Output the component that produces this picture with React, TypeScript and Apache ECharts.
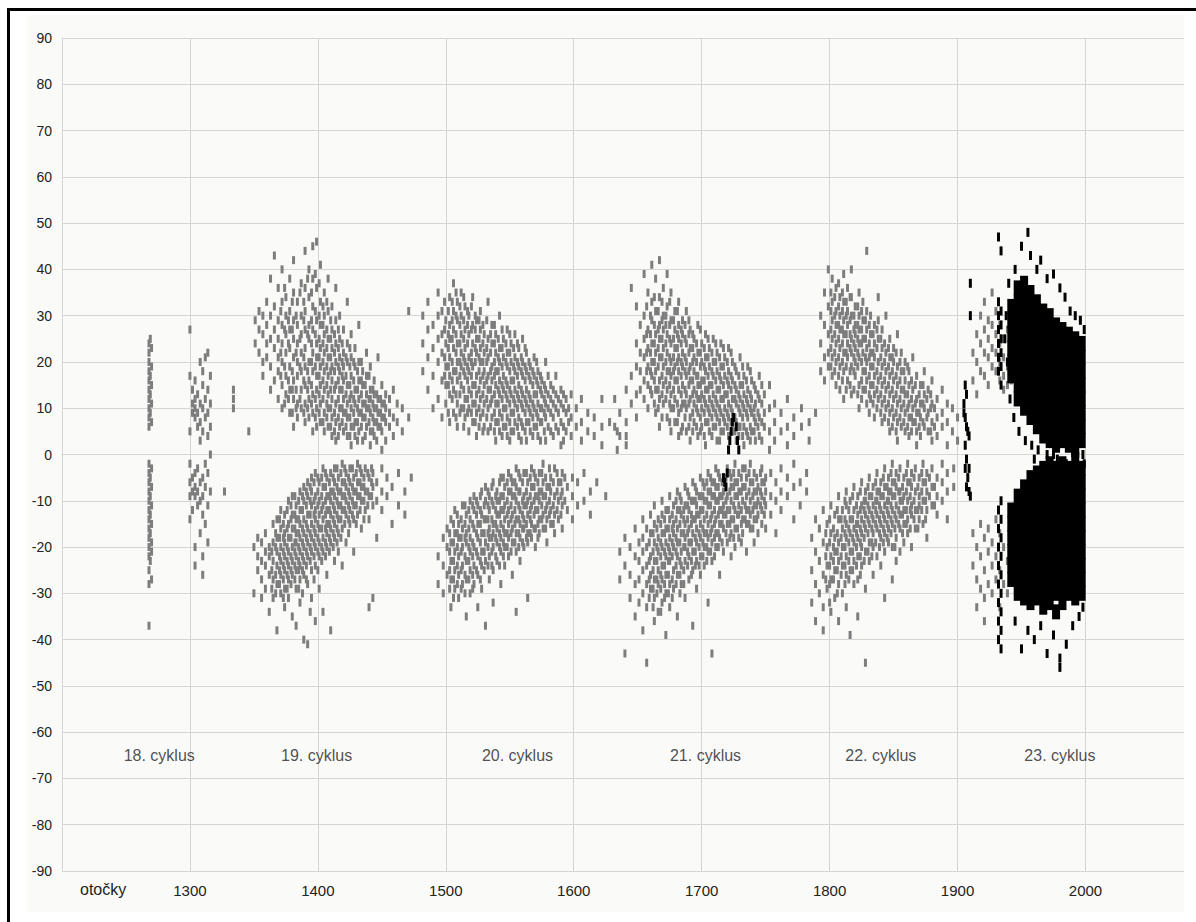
import React, { useEffect, useRef } from "react";
import * as echarts from "echarts";

// Each row: [rotation (otočka), latitude, latitude, ...]
const cycle18: number[][] = [
  [1268, 24, 22, 20, 18, 16, 14, 12, 10, 8, 6, -2, -4, -6, -8, -10, -12, -14, -16, -18, -20, -22, -25, -28, -37],
  [1270, 23, 19, 15, 11, 7, -3, -7, -11, -15, -19, -21, -27],
  [1269, 25, 17, 13, 9, -5, -9, -13, -17, -23],
  [1300, 27, 17, 5, -2, -6, -9, -14],
  [1302, 14, 11, 9, -5, -8, -12],
  [1304, 16, 12, 10, 8, -4, -7, -9, -20, -24],
  [1306, 13, 9, 6, -3, -8, -11],
  [1308, 20, 11, 7, 3, -6, -10, -17],
  [1310, 18, 15, 10, 5, -5, -9, -13, -22, -26],
  [1312, 21, 12, 8, -2, -7, -15],
  [1314, 22, 14, 9, 4, -4, -11, -19],
  [1316, 17, 11, 6, 0, -8],
  [1334, 14, 12, 10],
  [1327, -8],
  [1346, 5],
];

const cycle19North: number[][] = [
  [1351, 29, 24], [1354, 31, 27, 22], [1357, 30, 26, 20, 17], [1360, 33, 28, 24, 21],
  [1363, 38, 30, 25, 19, 14], [1366, 43, 32, 27, 23, 16], [1369, 36, 29, 25, 21, 18, 12],
  [1372, 40, 33, 28, 24, 20, 15, 10], [1375, 34, 30, 26, 22, 17, 13],
  [1378, 38, 31, 27, 23, 19, 14, 9], [1381, 42, 35, 29, 25, 21, 16, 12, 6],
  [1384, 33, 28, 24, 20, 17, 11, 8], [1387, 37, 30, 26, 22, 18, 14, 10],
  [1390, 44, 36, 31, 27, 23, 19, 15, 11, 7], [1393, 40, 34, 28, 25, 20, 16, 12, 8],
  [1396, 45, 38, 32, 27, 22, 18, 13, 9, 5], [1399, 46, 36, 29, 24, 21, 17, 14, 10, 6],
  [1402, 41, 33, 28, 23, 19, 15, 11, 7], [1405, 35, 30, 26, 22, 18, 14, 9, 5],
  [1408, 38, 31, 25, 21, 17, 13, 10, 6], [1411, 32, 27, 23, 19, 16, 12, 8, 4],
  [1414, 36, 29, 24, 20, 15, 11, 7, 3], [1417, 30, 25, 21, 18, 14, 10, 6],
  [1420, 27, 22, 19, 16, 12, 9, 5], [1423, 33, 24, 20, 15, 11, 8, 4],
  [1426, 26, 21, 17, 13, 10, 6, 2], [1429, 23, 19, 14, 11, 7, 4],
  [1432, 28, 20, 16, 12, 9, 5], [1435, 18, 15, 11, 8, 3], [1438, 22, 17, 13, 10, 6],
  [1441, 19, 14, 12, 9, 5, 2], [1444, 16, 13, 10, 7, 4], [1447, 21, 12, 9, 6],
  [1450, 15, 11, 8, 5, 1], [1453, 13, 10, 7, 3], [1456, 12, 9, 6], [1459, 14, 8, 4],
  [1462, 11, 7], [1466, 10, 5], [1471, 31, 8],
];
const cycle19NorthFill: number[][] = [
  [1371, 31, 22, 17], [1374, 36, 27, 19, 11], [1377, 29, 24, 16, 12], [1380, 33, 27, 18, 14, 9],
  [1383, 30, 22, 14, 10], [1386, 35, 25, 19, 12], [1389, 33, 29, 21, 16, 9], [1392, 38, 26, 18, 14, 10],
  [1395, 35, 29, 24, 20, 15, 11], [1398, 39, 31, 26, 19, 12, 8], [1401, 37, 30, 25, 21, 17, 13, 9],
  [1404, 32, 28, 24, 20, 16, 12, 7], [1407, 33, 27, 23, 19, 15, 11, 8], [1410, 29, 25, 21, 18, 14, 10, 6],
  [1413, 26, 22, 18, 14, 9, 5], [1416, 27, 23, 19, 16, 12, 8, 4], [1419, 24, 20, 17, 14, 10, 7],
  [1422, 21, 17, 13, 9, 6], [1425, 23, 19, 15, 12, 8, 4], [1428, 20, 16, 12, 9, 6],
  [1431, 18, 14, 10, 7, 3], [1434, 20, 16, 13, 9, 6], [1437, 15, 11, 8, 4], [1440, 17, 12, 10, 7],
  [1443, 14, 11, 8, 5], [1446, 13, 10, 7, 3], [1449, 12, 9, 6], [1452, 11, 8],
];

const cycle19South: number[][] = [
  [1350, -20, -30], [1353, -18, -22, -25], [1356, -19, -23, -27, -31], [1359, -17, -21, -24, -29],
  [1362, -20, -22, -26, -34], [1365, -15, -19, -23, -27, -31], [1368, -14, -18, -21, -24, -28, -38],
  [1371, -12, -16, -20, -23, -26, -30], [1374, -13, -17, -19, -22, -25, -29, -33],
  [1377, -10, -15, -18, -21, -24, -27, -31], [1380, -9, -13, -16, -20, -23, -26, -35],
  [1383, -11, -14, -17, -19, -22, -25, -29, -37], [1386, -8, -12, -15, -18, -21, -24, -27, -32],
  [1389, -7, -10, -14, -17, -20, -23, -26, -40], [1392, -6, -9, -13, -16, -19, -22, -28, -41],
  [1395, -5, -8, -11, -15, -18, -21, -25, -31], [1398, -4, -9, -12, -14, -17, -20, -24, -36],
  [1401, -6, -10, -13, -16, -19, -22, -29], [1404, -3, -7, -11, -14, -18, -21, -34],
  [1407, -5, -9, -12, -15, -17, -20, -26], [1410, -4, -8, -10, -13, -16, -19, -38],
  [1413, -3, -6, -9, -12, -15, -18, -23], [1416, -5, -8, -11, -14, -17, -21],
  [1419, -2, -6, -9, -12, -16, -24], [1422, -4, -7, -10, -13, -19], [1425, -3, -6, -9, -12, -15],
  [1428, -5, -8, -11, -14, -21], [1431, -2, -6, -9, -13], [1434, -4, -7, -10, -16],
  [1437, -3, -8, -12], [1440, -5, -9, -14, -33], [1443, -4, -7, -11, -31], [1446, -6, -10, -18],
  [1450, -3, -8, -12], [1454, -5, -9], [1458, -7, -15], [1463, -4, -11], [1468, -8, -13], [1473, -5],
];
const cycle19SouthFill: number[][] = [
  [1364, -21, -25, -29], [1367, -17, -20, -26, -30], [1370, -14, -18, -22, -25, -28],
  [1373, -15, -18, -21, -24, -27, -31], [1376, -12, -16, -20, -23, -26, -29],
  [1379, -11, -14, -18, -22, -25, -28], [1382, -9, -13, -16, -19, -21, -24, -27],
  [1385, -10, -14, -17, -20, -23, -25, -29], [1388, -9, -12, -16, -19, -22, -25, -30],
  [1391, -8, -11, -15, -18, -21, -24, -27], [1394, -7, -10, -13, -17, -20, -23, -34],
  [1397, -6, -10, -13, -16, -19, -22, -27], [1400, -5, -8, -11, -15, -18, -21, -25],
  [1403, -5, -9, -12, -16, -20, -23], [1406, -4, -7, -10, -13, -16, -19, -22],
  [1409, -6, -9, -12, -15, -18, -21], [1412, -5, -8, -11, -14, -17, -20],
  [1415, -3, -7, -10, -13, -16, -19], [1418, -4, -8, -11, -14, -18], [1421, -3, -6, -9, -12, -15],
  [1424, -5, -8, -11, -14, -17], [1427, -3, -7, -10, -13], [1430, -4, -8, -11, -15],
  [1433, -3, -6, -9, -12], [1436, -5, -7, -10, -14], [1439, -4, -8, -11], [1442, -3, -6, -9],
];

const cycle20North: number[][] = [
  [1482, 30, 24, 18], [1486, 33, 27, 21, 14], [1490, 28, 23, 17, 10], [1494, 35, 30, 25, 20, 12],
  [1497, 31, 26, 22, 16, 8], [1500, 29, 24, 19, 15, 11], [1503, 34, 28, 25, 21, 17, 13, 7],
  [1506, 37, 31, 27, 23, 18, 14, 9], [1509, 33, 29, 24, 20, 16, 11, 6],
  [1512, 35, 30, 26, 22, 19, 15, 10], [1515, 32, 27, 23, 20, 17, 12, 8],
  [1518, 30, 26, 21, 18, 14, 10, 5], [1521, 34, 28, 24, 19, 15, 11, 7],
  [1524, 29, 25, 22, 17, 13, 9, 4], [1527, 31, 27, 23, 20, 16, 12, 8],
  [1530, 26, 22, 18, 15, 11, 6], [1533, 33, 25, 21, 17, 14, 10, 5], [1536, 28, 24, 19, 16, 12, 8],
  [1539, 26, 22, 18, 15, 11, 7, 3], [1542, 30, 23, 20, 16, 13, 9, 5], [1545, 25, 21, 17, 14, 10, 6],
  [1548, 27, 22, 19, 15, 12, 8, 4], [1551, 24, 20, 16, 13, 9, 5], [1554, 26, 21, 18, 14, 11, 7],
  [1557, 23, 19, 15, 12, 8, 4], [1560, 25, 20, 17, 13, 10, 6], [1563, 22, 18, 14, 11, 7, 3],
  [1566, 19, 16, 12, 9, 5], [1569, 21, 17, 13, 10, 6], [1572, 18, 15, 11, 8, 4],
  [1575, 16, 13, 10, 7], [1578, 20, 14, 11, 8, 3], [1582, 15, 12, 9, 5], [1586, 17, 13, 10, 6],
  [1590, 14, 11, 7, 2], [1594, 12, 9, 5], [1598, 13, 8, 4], [1602, 10, 6], [1606, 12, 7, 3],
  [1611, 9, 5], [1616, 8, 4], [1622, 6, 2, 12], [1628, 7], [1634, 5, 1], [1641, 4],
];
const cycle20NorthFill: number[][] = [
  [1499, 33, 27, 21, 17], [1502, 31, 26, 23, 19, 15, 9], [1505, 33, 29, 25, 20, 16, 12],
  [1508, 35, 30, 26, 22, 18, 13, 8], [1511, 32, 28, 24, 20, 17, 13, 9],
  [1514, 34, 29, 25, 21, 18, 14, 10, 6], [1517, 31, 28, 24, 19, 16, 12, 9],
  [1520, 32, 27, 22, 20, 17, 13, 9], [1523, 30, 27, 23, 20, 15, 11, 7],
  [1526, 29, 25, 21, 18, 14, 10, 6], [1529, 28, 24, 20, 17, 13, 9, 5], [1532, 29, 23, 20, 16, 12, 8],
  [1535, 26, 22, 18, 14, 11, 6], [1538, 28, 24, 20, 17, 13, 9, 5], [1541, 25, 21, 18, 14, 11, 7],
  [1544, 27, 23, 19, 15, 12, 8, 4], [1547, 24, 20, 16, 13, 10, 6], [1550, 26, 22, 18, 14, 11, 7, 3],
  [1553, 23, 19, 16, 12, 9, 5], [1556, 24, 20, 17, 13, 10, 6], [1559, 21, 18, 14, 11, 7, 3],
  [1562, 23, 19, 16, 12, 9, 5], [1565, 20, 17, 13, 10, 7], [1568, 18, 15, 11, 8, 4],
  [1571, 20, 16, 13, 9, 6], [1574, 17, 14, 10, 7, 3], [1577, 15, 12, 9, 5], [1580, 17, 13, 10, 6],
  [1584, 14, 11, 8, 4], [1588, 12, 9, 5], [1592, 13, 10, 6, 3], [1596, 10, 7],
];

const cycle20South: number[][] = [
  [1494, -22, -28], [1498, -18, -24, -30], [1501, -16, -20, -26], [1504, -14, -19, -23, -27, -33],
  [1507, -12, -17, -21, -25, -29], [1510, -15, -18, -22, -26, -31], [1513, -11, -16, -20, -24, -28],
  [1516, -13, -17, -19, -23, -27, -35], [1519, -10, -14, -18, -21, -25, -30],
  [1522, -9, -12, -16, -20, -24, -28], [1525, -11, -15, -18, -22, -26, -33],
  [1528, -8, -13, -17, -21, -24, -29], [1531, -7, -10, -14, -19, -23, -37],
  [1534, -9, -12, -16, -18, -22, -27], [1537, -6, -11, -15, -17, -20, -25, -32],
  [1540, -8, -10, -13, -16, -19, -23], [1543, -5, -9, -12, -15, -18, -21, -28],
  [1546, -7, -11, -14, -17, -20, -24], [1549, -4, -8, -12, -15, -18, -22],
  [1552, -6, -9, -13, -16, -19, -26], [1555, -3, -7, -10, -14, -17, -21, -34],
  [1558, -5, -8, -12, -15, -18, -23], [1561, -4, -9, -11, -14, -16, -20],
  [1564, -6, -10, -13, -17, -19, -31], [1567, -3, -7, -11, -15, -18], [1570, -5, -9, -12, -16, -20],
  [1573, -4, -8, -10, -14, -17], [1576, -2, -6, -9, -13, -16], [1579, -7, -11, -14, -19],
  [1582, -5, -8, -12, -15], [1585, -3, -9, -13, -17], [1588, -6, -10, -14], [1591, -4, -8, -11, -16],
  [1595, -7, -12], [1599, -5, -9, -14], [1603, -6, -11], [1608, -4, -10], [1613, -8, -13],
  [1618, -6], [1625, -9],
];
const cycle20SouthFill: number[][] = [
  [1503, -17, -21, -25, -29], [1506, -15, -19, -23, -27, -31], [1509, -13, -17, -20, -24, -28],
  [1512, -14, -18, -21, -25, -29], [1515, -11, -15, -18, -22, -26, -30], [1518, -12, -16, -20, -23, -27],
  [1521, -11, -15, -19, -22, -26, -29], [1524, -10, -13, -17, -21, -25], [1527, -9, -12, -15, -19, -23, -27],
  [1530, -11, -14, -17, -21, -25], [1533, -8, -11, -14, -17, -20, -24], [1536, -7, -10, -14, -18, -21, -24],
  [1539, -9, -12, -15, -18, -22], [1542, -6, -10, -13, -17, -20, -24], [1545, -5, -9, -12, -16, -19, -22],
  [1548, -6, -10, -13, -17, -20], [1551, -5, -8, -11, -14, -17, -21], [1554, -6, -9, -12, -15, -19],
  [1557, -4, -8, -11, -14, -17, -20], [1560, -6, -10, -13, -16, -19], [1563, -4, -8, -11, -15, -18],
  [1566, -5, -9, -12, -14, -17], [1569, -4, -7, -10, -13, -16], [1572, -6, -9, -12, -15, -18],
  [1575, -4, -8, -11, -14], [1578, -5, -9, -12, -16], [1581, -3, -7, -10, -13], [1584, -6, -11, -15],
  [1587, -4, -8, -12], [1590, -6, -9, -13], [1593, -5, -10],
];

const cycle21North: number[][] = [
  [1632, 12, 6], [1636, 9, 4], [1641, 14, 7, 2], [1645, 36, 17, 11], [1649, 32, 24, 19, 13, 8],
  [1652, 28, 22, 18, 14], [1655, 39, 30, 25, 21, 16, 12], [1658, 35, 27, 23, 19, 15, 10],
  [1661, 41, 33, 29, 24, 20, 17, 13], [1664, 38, 31, 26, 22, 18, 14, 9],
  [1667, 42, 34, 28, 25, 21, 16, 12, 6], [1670, 36, 30, 27, 23, 19, 15, 11],
  [1673, 39, 32, 26, 22, 18, 14, 8], [1676, 35, 29, 24, 20, 17, 13, 10, 5],
  [1679, 31, 27, 23, 19, 16, 12, 7], [1682, 33, 28, 25, 21, 18, 14, 9, 4],
  [1685, 29, 26, 22, 19, 15, 11, 6], [1688, 31, 24, 20, 17, 13, 10, 5],
  [1691, 27, 23, 19, 16, 12, 8, 3], [1694, 25, 21, 18, 14, 11, 7], [1697, 28, 22, 17, 15, 12, 9, 4],
  [1700, 24, 20, 16, 13, 10, 6], [1703, 26, 21, 18, 14, 11, 7, 2], [1706, 23, 19, 15, 12, 9, 5],
  [1709, 25, 20, 17, 13, 10, 6], [1712, 22, 18, 14, 11, 8, 3], [1715, 24, 19, 16, 12, 9, 5],
  [1718, 21, 17, 13, 10, 7], [1721, 23, 18, 15, 11, 8, 4], [1724, 20, 16, 12, 9, 5],
  [1727, 18, 14, 11, 7, 3], [1730, 21, 15, 12, 9, 6], [1733, 17, 13, 10, 6, 2],
  [1736, 19, 14, 11, 8, 4], [1739, 16, 12, 9, 5], [1742, 14, 11, 7, 3], [1745, 17, 12, 8, 4],
  [1749, 13, 9, 6], [1753, 15, 10, 5, 1], [1757, 11, 7, 3], [1762, 9, 5], [1767, 12, 6, 2],
  [1772, 8, 4], [1778, 10, 6], [1784, 7, 3], [1789, 9],
];
const cycle21NorthFill: number[][] = [
  [1657, 32, 26, 22, 18], [1660, 30, 26, 22, 18, 14], [1663, 34, 28, 24, 20, 16, 11],
  [1666, 31, 27, 23, 19, 14, 10], [1669, 33, 29, 25, 21, 17, 13, 8], [1672, 30, 28, 24, 20, 16, 12],
  [1675, 33, 28, 25, 21, 18, 15, 11, 7], [1678, 29, 25, 21, 18, 14, 10], [1681, 31, 26, 23, 20, 16, 11, 7],
  [1684, 27, 24, 20, 17, 13, 10, 5], [1687, 28, 25, 21, 18, 14, 11, 8], [1690, 29, 26, 22, 18, 15, 11, 6],
  [1693, 26, 23, 20, 16, 13, 9, 5], [1696, 24, 20, 17, 13, 10, 6], [1699, 27, 22, 19, 15, 12, 8, 5],
  [1702, 23, 19, 16, 12, 9, 4], [1705, 25, 21, 17, 14, 10, 7], [1708, 22, 18, 15, 11, 8, 4],
  [1711, 24, 20, 16, 12, 9, 6], [1714, 21, 17, 14, 10, 7, 3], [1717, 23, 19, 15, 12, 8, 5],
  [1720, 20, 16, 13, 9, 6], [1723, 22, 17, 14, 10, 7], [1726, 19, 15, 12, 8, 5],
  [1729, 17, 13, 10, 6, 4], [1732, 19, 15, 11, 8, 4], [1735, 16, 12, 9, 5], [1738, 18, 13, 10, 6, 3],
  [1741, 15, 10, 8, 5], [1744, 13, 9, 6], [1747, 15, 11, 7, 3],
];

const cycle21South: number[][] = [
  [1636, -21, -27], [1640, -18, -24, -43], [1644, -20, -26, -31], [1648, -16, -22, -28, -35],
  [1651, -19, -23, -27, -32], [1654, -14, -18, -21, -25, -30, -38],
  [1657, -16, -20, -24, -28, -33, -45], [1660, -13, -17, -22, -26, -29],
  [1663, -11, -15, -19, -23, -27, -31, -36], [1666, -14, -18, -21, -25, -28, -34],
  [1669, -10, -13, -17, -20, -24, -27, -32], [1672, -12, -16, -19, -22, -26, -30, -39],
  [1675, -9, -14, -18, -21, -23, -28, -33], [1678, -11, -15, -17, -20, -25, -29],
  [1681, -8, -12, -16, -19, -22, -26, -35], [1684, -10, -13, -17, -21, -24, -28],
  [1687, -7, -11, -15, -18, -20, -23, -31], [1690, -9, -12, -16, -19, -22, -27],
  [1693, -6, -10, -14, -17, -21, -25, -37], [1696, -8, -11, -13, -16, -19, -23, -29],
  [1699, -5, -9, -12, -15, -18, -22, -26], [1702, -7, -10, -14, -17, -20, -24],
  [1705, -4, -8, -11, -15, -18, -21, -32], [1708, -6, -9, -13, -16, -19, -23, -43],
  [1711, -3, -7, -10, -14, -17, -20], [1714, -5, -9, -12, -15, -18, -26],
  [1717, -8, -11, -13, -16, -21], [1720, -3, -9, -12, -15, -19], [1723, -5, -7, -10, -14, -17, -22],
  [1726, -2, -6, -9, -12, -16, -20], [1729, -4, -8, -11, -13, -18], [1732, -3, -7, -10, -14, -17],
  [1735, -5, -9, -12, -15, -21], [1738, -2, -6, -10, -13, -16], [1741, -4, -8, -11, -14, -19],
  [1744, -7, -10, -13, -17], [1747, -3, -6, -9, -12, -15], [1750, -5, -8, -11, -16],
  [1754, -4, -9, -13], [1758, -6, -10, -17], [1762, -3, -8, -12], [1767, -5, -9],
  [1772, -2, -7, -14], [1777, -6, -11], [1782, -4, -8],
];
const cycle21SouthFill: number[][] = [
  [1659, -19, -23, -27, -31], [1662, -17, -21, -25, -29, -33], [1665, -16, -20, -23, -27, -30],
  [1668, -15, -19, -22, -26, -29, -34], [1671, -14, -17, -21, -24, -28, -31],
  [1674, -12, -16, -20, -23, -26, -30], [1677, -13, -16, -19, -22, -27, -31],
  [1680, -10, -14, -18, -21, -24, -28], [1683, -9, -12, -15, -19, -23, -26, -30],
  [1686, -12, -14, -17, -20, -25, -28], [1689, -8, -11, -14, -17, -21, -24],
  [1692, -10, -13, -15, -19, -23, -26], [1695, -7, -10, -14, -18, -21, -24], [1698, -9, -13, -17, -20, -24],
  [1701, -6, -9, -12, -16, -19, -22], [1704, -6, -10, -13, -17, -20, -23], [1707, -5, -8, -11, -14, -17, -21],
  [1710, -6, -9, -12, -15, -18, -22], [1713, -4, -7, -10, -13, -17, -20], [1716, -6, -9, -12, -15, -19],
  [1719, -5, -10, -13, -17], [1722, -4, -8, -12, -15, -18], [1725, -4, -7, -11, -14, -18],
  [1728, -6, -9, -13, -16], [1731, -5, -8, -12, -15, -19], [1734, -3, -7, -11, -14],
  [1737, -4, -8, -12, -15], [1740, -6, -9, -12, -16], [1743, -5, -8, -11, -14], [1746, -4, -8, -11],
  [1749, -6, -10, -13],
];

const cycle22North: number[][] = [
  [1793, 30, 24, 18], [1796, 35, 28, 21, 16], [1799, 40, 32, 26, 22, 19], [1802, 38, 33, 29, 25, 21, 17],
  [1805, 36, 31, 28, 24, 20, 15], [1808, 34, 30, 27, 23, 19, 14], [1811, 39, 33, 29, 26, 22, 18, 12],
  [1814, 36, 31, 28, 24, 21, 16], [1817, 40, 34, 30, 25, 22, 19, 13], [1820, 32, 28, 26, 23, 20, 17],
  [1823, 35, 30, 27, 24, 21, 15, 10], [1826, 33, 29, 25, 22, 18, 14], [1829, 44, 31, 27, 23, 20, 16, 11],
  [1832, 30, 26, 22, 19, 15, 12], [1835, 28, 24, 21, 17, 13, 8], [1838, 34, 29, 25, 20, 16, 12],
  [1841, 27, 23, 19, 15, 11, 7], [1844, 30, 22, 18, 14, 10], [1847, 25, 21, 17, 13, 9, 5],
  [1850, 23, 20, 16, 12, 8], [1853, 26, 19, 15, 11, 7, 3], [1856, 22, 18, 14, 10, 6],
  [1859, 20, 16, 13, 9, 5], [1862, 18, 15, 11, 8, 4], [1865, 21, 14, 10, 7], [1868, 17, 12, 9, 5, 2],
  [1871, 15, 11, 8, 4], [1874, 18, 13, 10, 6], [1877, 14, 9, 5], [1880, 16, 11, 7, 3],
  [1884, 12, 8, 4], [1888, 14, 9, 6], [1892, 11, 7, 2], [1896, 10, 5], [1900, 8, 3],
];
const cycle22NorthFill: number[][] = [
  [1801, 35, 31, 27, 23, 19], [1804, 34, 30, 26, 22, 18], [1807, 37, 32, 28, 25, 21, 17],
  [1810, 35, 31, 27, 24, 20, 16], [1813, 33, 30, 26, 22, 19, 14], [1816, 34, 29, 26, 23, 18, 15],
  [1819, 30, 27, 24, 21, 18, 14], [1822, 32, 28, 25, 22, 19, 13], [1825, 31, 27, 24, 20, 16, 12],
  [1828, 29, 25, 21, 18, 14], [1831, 28, 24, 21, 17, 13, 9], [1834, 26, 22, 19, 15, 11],
  [1837, 27, 23, 18, 14, 10], [1840, 25, 21, 17, 13, 9], [1843, 24, 20, 16, 12, 8],
  [1846, 23, 19, 15, 11, 7], [1849, 21, 18, 14, 10, 6], [1852, 22, 17, 13, 9, 5], [1855, 20, 16, 12, 8],
  [1858, 18, 14, 11, 7], [1861, 19, 13, 10, 6], [1864, 16, 12, 8, 5], [1867, 15, 11, 7],
  [1870, 13, 9, 6], [1873, 15, 11, 7], [1876, 12, 8], [1879, 13, 10, 5], [1882, 10, 6],
];

const cycle22South: number[][] = [
  [1786, -18, -25, -32], [1789, -14, -21, -28, -36], [1792, -16, -23, -30],
  [1795, -12, -19, -26, -33, -38], [1798, -15, -20, -24, -29], [1801, -11, -17, -22, -27, -34],
  [1804, -13, -18, -21, -25, -31], [1807, -9, -14, -19, -23, -28, -36], [1810, -12, -16, -20, -24, -30],
  [1813, -8, -11, -15, -18, -22, -26, -33], [1816, -10, -14, -17, -21, -25, -39],
  [1819, -7, -12, -16, -19, -23, -28], [1822, -9, -13, -15, -18, -22, -27, -35],
  [1825, -6, -11, -14, -17, -20, -24], [1828, -8, -10, -13, -16, -21, -29, -45],
  [1831, -5, -9, -12, -15, -19, -23], [1834, -7, -11, -14, -17, -20, -26],
  [1837, -4, -8, -10, -13, -16, -22], [1840, -6, -9, -12, -15, -18, -24],
  [1843, -3, -7, -11, -14, -17, -21, -31], [1846, -5, -8, -10, -13, -16, -19],
  [1849, -2, -6, -9, -12, -15, -20, -27], [1852, -4, -7, -11, -14, -18, -23],
  [1855, -3, -8, -10, -13, -16, -21], [1858, -5, -9, -12, -15, -19], [1861, -2, -6, -10, -14, -17],
  [1864, -4, -7, -11, -13, -20], [1867, -3, -8, -12, -16], [1870, -5, -9, -11, -14],
  [1873, -2, -6, -10, -15], [1876, -4, -8, -12, -18], [1880, -3, -7, -11], [1884, -5, -9, -13],
  [1888, -2, -6, -10], [1892, -4, -8, -14], [1897, -3, -7],
];
const cycle22SouthFill: number[][] = [
  [1797, -17, -22, -27], [1800, -14, -19, -24, -28, -32], [1803, -16, -20, -23, -27],
  [1806, -12, -17, -21, -25, -30], [1809, -14, -18, -22, -26], [1812, -10, -14, -17, -20, -24, -28],
  [1815, -12, -16, -19, -23, -27], [1818, -9, -14, -18, -21, -25], [1821, -11, -15, -17, -20, -24],
  [1824, -8, -12, -16, -19, -22, -26], [1827, -10, -12, -15, -18, -23], [1830, -7, -11, -14, -17, -21],
  [1833, -9, -13, -16, -19, -22], [1836, -6, -10, -12, -15, -19], [1839, -8, -11, -14, -17, -20],
  [1842, -5, -9, -13, -16, -19], [1845, -7, -10, -12, -15, -18], [1848, -4, -8, -11, -14, -17],
  [1851, -6, -9, -13, -16, -20], [1854, -5, -8, -12, -15], [1857, -7, -10, -13, -17],
  [1860, -4, -8, -12, -15], [1863, -6, -9, -12, -16], [1866, -5, -10, -14], [1869, -7, -12, -16],
  [1872, -4, -8, -12], [1875, -6, -10, -14], [1878, -5, -9], [1882, -7, -11],
];

const cycle23Gray: number[][] = [
  [1912, 22, 16, -17, -24], [1915, 26, 20, 13, -20, -27, -33], [1918, 30, 24, 18, -15, -22, -29],
  [1921, 33, 27, 22, 17, -18, -25, -31, -36], [1924, 29, 25, 21, 15, -16, -21, -28],
  [1927, 35, 28, 23, 19, -19, -24, -30], [1930, 31, 26, 22, 18, -14, -22, -27],
  [1933, 28, 24, 20, 16, -17, -25, -33], [1936, 25, 21, 17, 14, -20, -28],
  [1939, 27, 19, 15, -23, -30], [1942, 22, 16],
];

// black (newest) observations drawn as small ticks
const blackTicks: number[][] = [
  [1721, 1], [1722, 3], [1723, 5], [1724, 7], [1725, 8], [1727, 6], [1728, 3], [1729, 1],
  [1717, -5], [1718, -6], [1719, -7], [1720, -4],
  [1905, 11, 9], [1906, 15, 8, 2, -3], [1907, 13, 6, -1, -7], [1908, 5, -5], [1909, 4, -8, -3],
  [1910, 37, 30, -9],
  [1932, 47, 33, 30, 27, 24, 21, 18, -12, -16, -20, -24, -28, -32, -36, -40],
  [1934, 44, 31, 28, 25, 22, 19, 15, -10, -14, -18, -22, -26, -30, -34, -38, -42],
  [1937, 25], [1938, 30], [1939, 20], [1940, 37], [1941, 12], [1944, 8], [1945, 40, -36],
  [1948, 5], [1950, 45, -42], [1953, 3], [1955, 48, -38], [1957, 43], [1958, 2],
  [1960, -1, -40], [1962, 40], [1963, 1], [1965, 42, -37], [1970, 38, 0, -43],
  [1975, 39, 0, -39], [1978, -1], [1980, 36, -46, -44], [1984, 34], [1985, -2, -41],
  [1988, 31], [1990, -3, 1, -37], [1992, 30], [1995, -4, -35], [1996, 29], [1998, 0, -33], [1999, 27, -2],
];

// black (newest) observations, densely packed core
const blackCore: number[][] = [
  [1942, 32, 29, 26, 23, 20, 17, -12, -15, -18, -21, -24, -27],
  [1947, 36, 33, 30, 27, 24, 21, 18, 15, 12, -9, -12, -15, -18, -21, -24, -27, -30],
  [1952, 37, 34, 31, 28, 25, 22, 19, 16, 13, 10, -7, -10, -13, -16, -19, -22, -25, -28, -31],
  [1957, 35, 32, 29, 26, 23, 20, 17, 14, 11, 8, -5, -8, -11, -14, -17, -20, -23, -26, -29, -32],
  [1962, 33, 30, 27, 24, 21, 18, 15, 12, 9, 6, -4, -7, -10, -13, -16, -19, -22, -25, -28, -31],
  [1967, 31, 28, 25, 22, 19, 16, 13, 10, 7, 4, -3, -6, -9, -12, -15, -18, -21, -24, -27, -30, -33],
  [1972, 30, 27, 24, 21, 18, 15, 12, 9, 6, 3, -2, -5, -8, -11, -14, -17, -20, -23, -26, -29, -32],
  [1977, 28, 25, 22, 19, 16, 13, 10, 7, 4, 2, -3, -6, -9, -12, -15, -18, -21, -24, -27, -30, -34],
  [1982, 27, 24, 21, 18, 15, 12, 9, 6, 3, -2, -5, -8, -11, -14, -17, -20, -23, -26, -29, -32],
  [1987, 26, 23, 20, 17, 14, 11, 8, 5, 2, -3, -6, -9, -12, -15, -18, -21, -24, -27, -30],
  [1992, 25, 22, 19, 16, 13, 10, 7, 4, 1, -1, -4, -7, -10, -13, -16, -19, -22, -25, -28, -31],
  [1997, 24, 21, 18, 15, 12, 9, 6, 3, -3, -6, -9, -12, -15, -18, -21, -24, -27, -30],
];

const cycleNames = ["18. cyklus", "19. cyklus", "20. cyklus", "21. cyklus", "22. cyklus", "23. cyklus"];
const cycleLabelX = [1276, 1399, 1556, 1703, 1840, 1980];
const cycleLabelY = -65;

const flat = (rows: number[][]) => rows.flatMap(([x, ...ys]) => ys.map((y) => [x, y]));

const grayRows = [
  ...cycle18, ...cycle19North, ...cycle19NorthFill, ...cycle19South, ...cycle19SouthFill,
  ...cycle20North, ...cycle20NorthFill, ...cycle20South, ...cycle20SouthFill,
  ...cycle21North, ...cycle21NorthFill, ...cycle21South, ...cycle21SouthFill,
  ...cycle22North, ...cycle22NorthFill, ...cycle22South, ...cycle22SouthFill, ...cycle23Gray,
];

const FONT = "'Liberation Sans', Arial, sans-serif";
const TEXT = "#222222";
const GRID = "#d5d5d5";

export default function App() {
  const ref = useRef<HTMLDivElement>(null);
  useEffect(() => {
    if (!ref.current) return;
    const chart = echarts.init(ref.current, null, { renderer: "svg" });
    chart.setOption({
      animation: false,
      backgroundColor: "#fafbf9",
      grid: { left: 35, top: 23, right: 0, bottom: 41, containLabel: false },
      xAxis: {
        type: "value",
        min: 1200,
        max: 2077,
        interval: 100,
        axisLine: { show: true, lineStyle: { color: GRID } },
        axisTick: { show: false },
        splitLine: { show: true, lineStyle: { color: GRID, width: 1 } },
        axisLabel: {
          formatter: (v: number) => (v === 1200 || v > 2000 ? "" : String(v)),
          showMaxLabel: false,
          fontSize: 15,
          color: TEXT,
          fontFamily: FONT,
          margin: 12,
        },
      },
      yAxis: {
        type: "value",
        min: -90,
        max: 90,
        interval: 10,
        axisLine: { show: true, lineStyle: { color: GRID } },
        axisTick: { show: false },
        splitLine: { show: true, lineStyle: { color: GRID, width: 1 } },
        axisLabel: { fontSize: 14, color: TEXT, fontFamily: FONT, margin: 10 },
      },
      graphic: [
        {
          type: "text",
          left: 53,
          top: 866,
          style: { text: "otočky", fontSize: 16, fill: TEXT, fontFamily: FONT },
        },
      ],
      series: [
        {
          type: "scatter",
          large: false,
          symbol: "rect",
          symbolSize: [3, 8],
          itemStyle: { color: "#7d7d7d", opacity: 1 },
          data: flat(grayRows),
          silent: true,
        },
        {
          type: "scatter",
          large: false,
          symbol: "rect",
          symbolSize: [8, 15],
          itemStyle: { color: "#000000", opacity: 1 },
          data: flat(blackCore),
          silent: true,
        },
        {
          type: "scatter",
          large: false,
          symbol: "rect",
          symbolSize: [3, 9],
          itemStyle: { color: "#000000", opacity: 1 },
          data: flat(blackTicks),
          silent: true,
        },
        {
          type: "scatter",
          symbolSize: 0,
          silent: true,
          label: {
            show: true,
            position: "inside",
            formatter: "{b}",
            fontSize: 16,
            color: TEXT,
            fontFamily: FONT,
          },
          data: cycleNames.map((n, i) => ({ name: n, value: [cycleLabelX[i], cycleLabelY] })),
        },
      ],
    });
    return () => chart.dispose();
  }, []);

  return (
    <div style={{ position: "fixed", left: 0, top: 0, width: 1196, height: 922, background: "#ffffff" }}>
      <div style={{ position: "absolute", left: 7, top: 8, width: 3, height: 914, background: "#000" }} />
      <div style={{ position: "absolute", left: 7, top: 8, width: 1189, height: 3, background: "#000" }} />
      <div ref={ref} style={{ position: "absolute", left: 27, top: 15, width: 1157, height: 897 }} />
    </div>
  );
}
